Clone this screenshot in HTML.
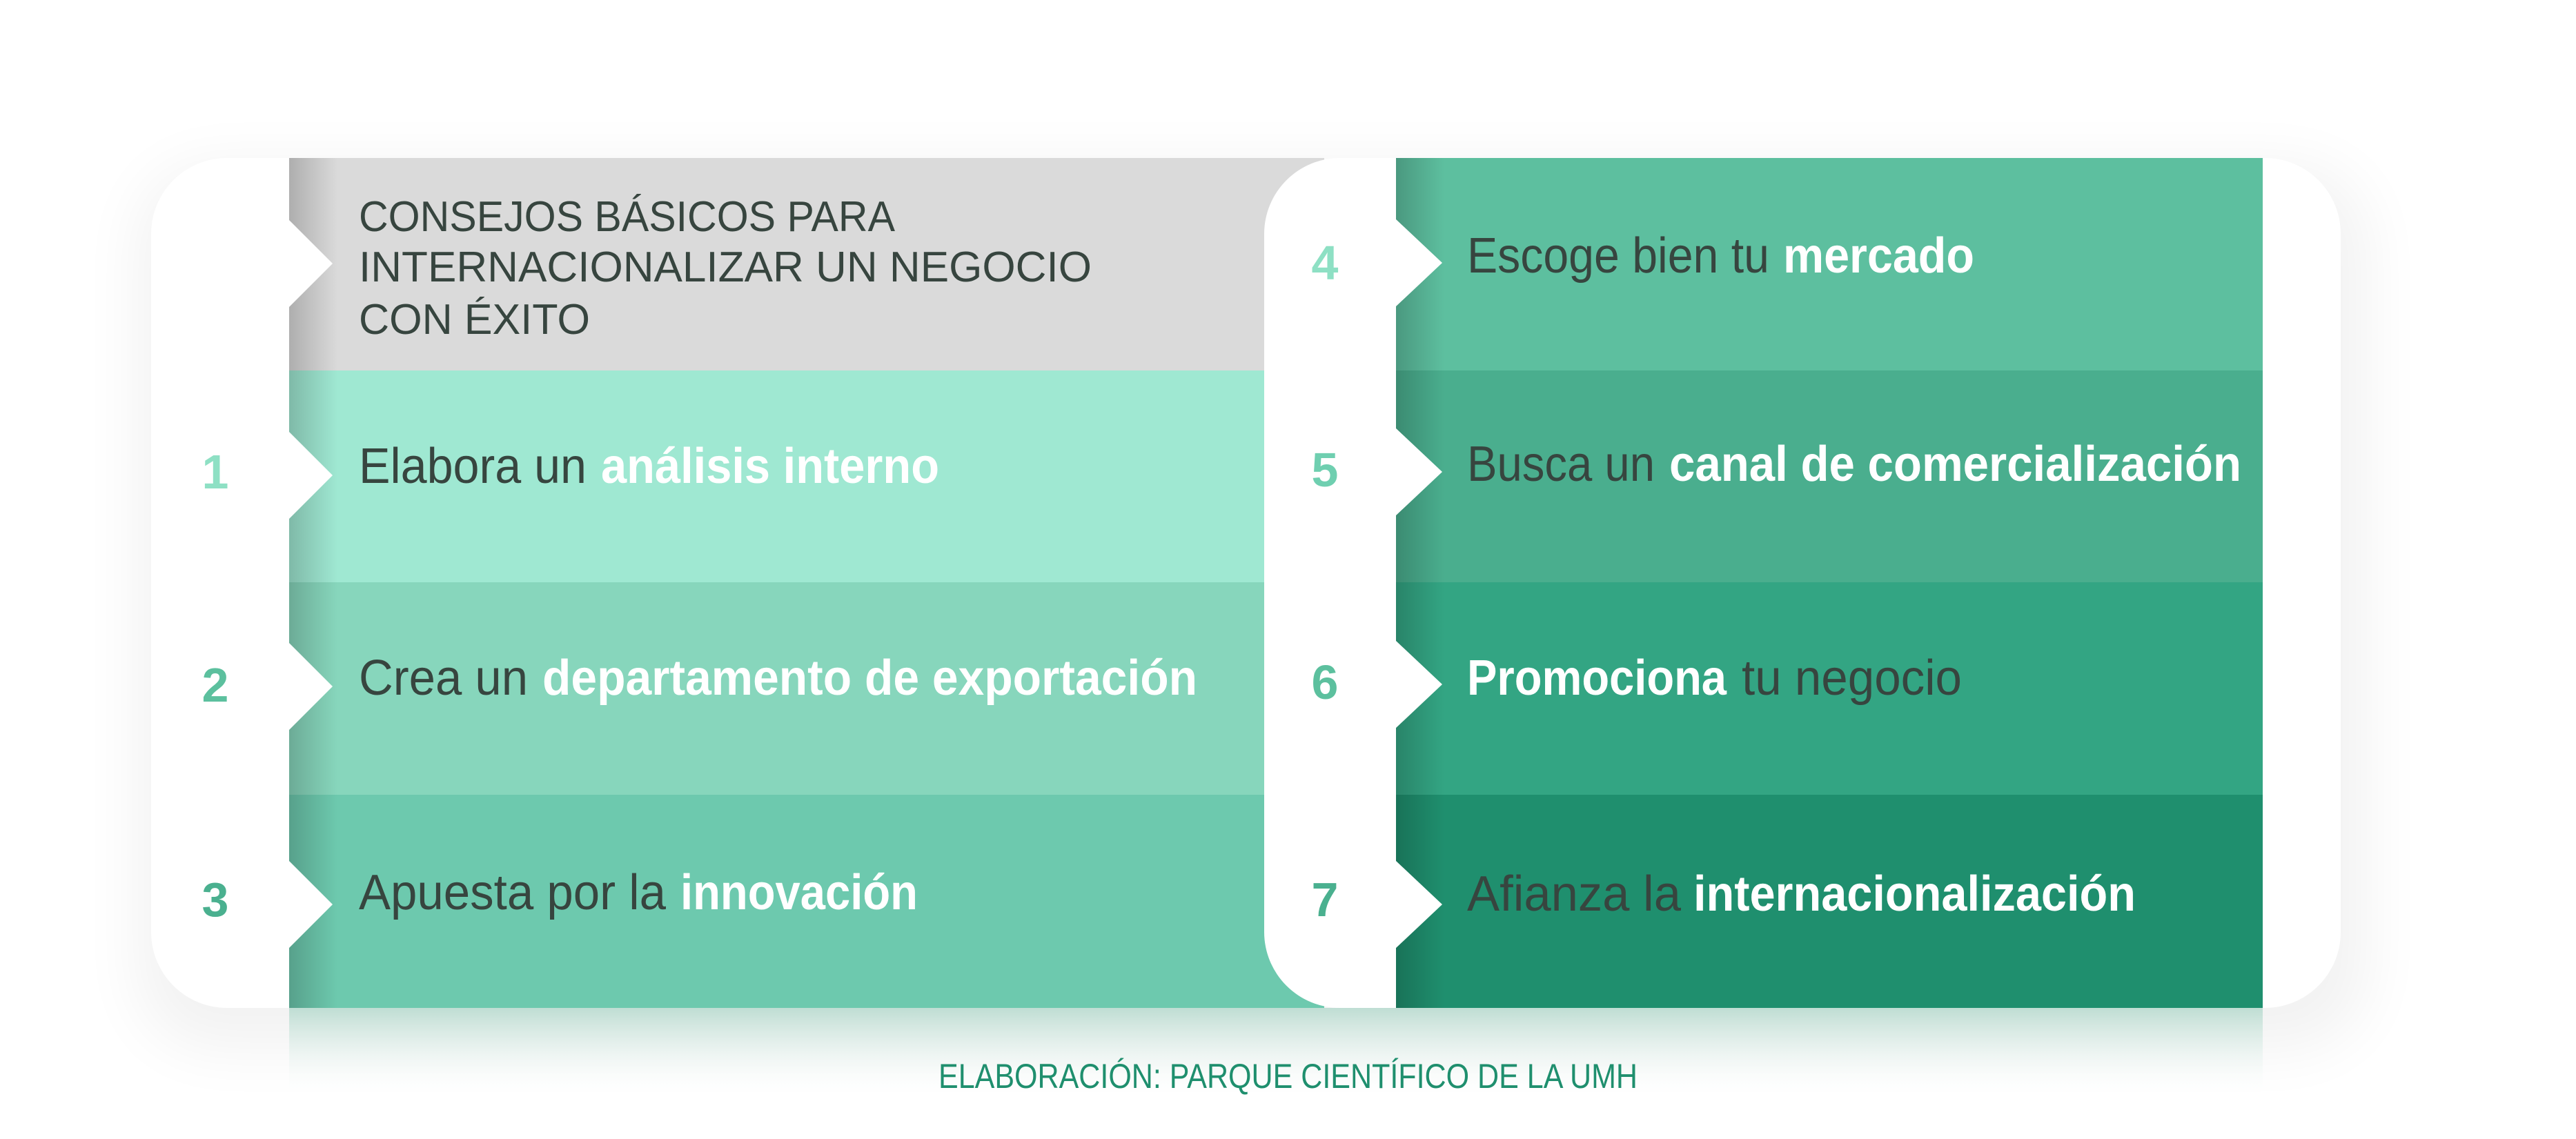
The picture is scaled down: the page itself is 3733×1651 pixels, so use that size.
<!DOCTYPE html>
<html><head><meta charset="utf-8"><style>
html,body{margin:0;padding:0;background:#fff;}
svg{display:block}
text{font-family:"Liberation Sans",sans-serif;}
</style></head><body>
<svg width="3733" height="1651" viewBox="0 0 3733 1651" xmlns="http://www.w3.org/2000/svg">
<defs>
<filter id="sh" x="-20%" y="-20%" width="140%" height="140%"><feGaussianBlur stdDeviation="45"/></filter>
<linearGradient id="edge" x1="0" x2="1" y1="0" y2="0">
<stop offset="0" stop-color="#000" stop-opacity="0.2"/><stop offset="1" stop-color="#000" stop-opacity="0"/></linearGradient>
<linearGradient id="below" x1="0" x2="0" y1="0" y2="1">
<stop offset="0" stop-color="#7fc4ad" stop-opacity="0.45"/><stop offset="1" stop-color="#fff" stop-opacity="0"/></linearGradient>
</defs>
<rect x="200" y="240" width="3230" height="1280" rx="110" fill="#000" opacity="0.05" filter="url(#sh)"/>
<rect x="419" y="1461" width="2860" height="130" fill="url(#below)"/>
<rect x="219" y="229" width="1700" height="1232" rx="110" fill="#fff"/>
<rect x="419" y="229" width="1500" height="308" fill="#dadada"/>
<rect x="419" y="537" width="1500" height="307" fill="#9fe8d2"/>
<rect x="419" y="844" width="1500" height="308" fill="#87d6bc"/>
<rect x="419" y="1152" width="1500" height="309" fill="#6dc9ae"/>
<rect x="419" y="229" width="70" height="1232" fill="url(#edge)"/>
<rect x="1832" y="229" width="1560" height="1232" rx="110" fill="#fff"/>
<rect x="2023" y="229" width="1256" height="308" fill="#5dbf9f"/>
<rect x="2023" y="537" width="1256" height="307" fill="#4aae8e"/>
<rect x="2023" y="844" width="1256" height="308" fill="#33a583"/>
<rect x="2023" y="1152" width="1256" height="309" fill="#1f8f6e"/>
<rect x="2023" y="229" width="70" height="1232" fill="url(#edge)"/>
<g fill="#fff">
<polygon points="418,318 482,382 418,446"/>
<polygon points="418,625 482,689 418,753"/>
<polygon points="418,931 482,995 418,1059"/>
<polygon points="418,1247 482,1311 418,1375"/>
<polygon points="2022,317 2090,381 2022,445"/>
<polygon points="2022,620 2090,684 2022,748"/>
<polygon points="2022,928 2090,992 2022,1056"/>
<polygon points="2022,1247 2090,1311 2022,1375"/>
</g>
<g font-size="70" text-anchor="middle" font-weight="bold">
<text x="312" y="708" fill="#8ee0c4">1</text>
<text x="312" y="1017" fill="#5cc09e">2</text>
<text x="312" y="1328" fill="#4ab08f">3</text>
<text x="1920" y="405" fill="#8ee0c4">4</text>
<text x="1920" y="705" fill="#6fcfb0">5</text>
<text x="1920" y="1013" fill="#5cc09e">6</text>
<text x="1920" y="1328" fill="#4ab08f">7</text>
</g>
<g fill="#37453f" font-size="62">
<text x="520" y="335" textLength="777" lengthAdjust="spacingAndGlyphs">CONSEJOS BÁSICOS PARA</text>
<text x="520" y="408" textLength="1062" lengthAdjust="spacingAndGlyphs">INTERNACIONALIZAR UN NEGOCIO</text>
<text x="520" y="484" textLength="335" lengthAdjust="spacingAndGlyphs">CON ÉXITO</text>
</g>
<g font-size="72">
<text x="520" y="700" fill="#37453f" textLength="330" lengthAdjust="spacingAndGlyphs">Elabora un</text>
<text x="871" y="700" fill="#fff" font-weight="bold" textLength="490" lengthAdjust="spacingAndGlyphs">análisis interno</text>
<text x="520" y="1007" fill="#37453f" textLength="245" lengthAdjust="spacingAndGlyphs">Crea un</text>
<text x="786" y="1007" fill="#fff" font-weight="bold" textLength="949" lengthAdjust="spacingAndGlyphs">departamento de exportación</text>
<text x="520" y="1318" fill="#37453f" textLength="445" lengthAdjust="spacingAndGlyphs">Apuesta por la</text>
<text x="986" y="1318" fill="#fff" font-weight="bold" textLength="344" lengthAdjust="spacingAndGlyphs">innovación</text>
<text x="2126" y="395" fill="#37453f" textLength="438" lengthAdjust="spacingAndGlyphs">Escoge bien tu</text>
<text x="2584" y="395" fill="#fff" font-weight="bold" textLength="277" lengthAdjust="spacingAndGlyphs">mercado</text>
<text x="2126" y="697" fill="#37453f" textLength="272" lengthAdjust="spacingAndGlyphs">Busca un</text>
<text x="2419" y="697" fill="#fff" font-weight="bold" textLength="829" lengthAdjust="spacingAndGlyphs">canal de comercialización</text>
<text x="2126" y="1007" fill="#fff" font-weight="bold" textLength="376" lengthAdjust="spacingAndGlyphs">Promociona</text>
<text x="2524" y="1007" fill="#37453f" textLength="319" lengthAdjust="spacingAndGlyphs">tu negocio</text>
<text x="2126" y="1320" fill="#37453f" textLength="310" lengthAdjust="spacingAndGlyphs">Afianza la</text>
<text x="2454" y="1320" fill="#fff" font-weight="bold" textLength="641" lengthAdjust="spacingAndGlyphs">internacionalización</text>
</g>
<text x="1360" y="1577" fill="#1f8f6e" font-size="50" textLength="1013" lengthAdjust="spacingAndGlyphs">ELABORACIÓN: PARQUE CIENTÍFICO DE LA UMH</text>
</svg>
</body></html>
